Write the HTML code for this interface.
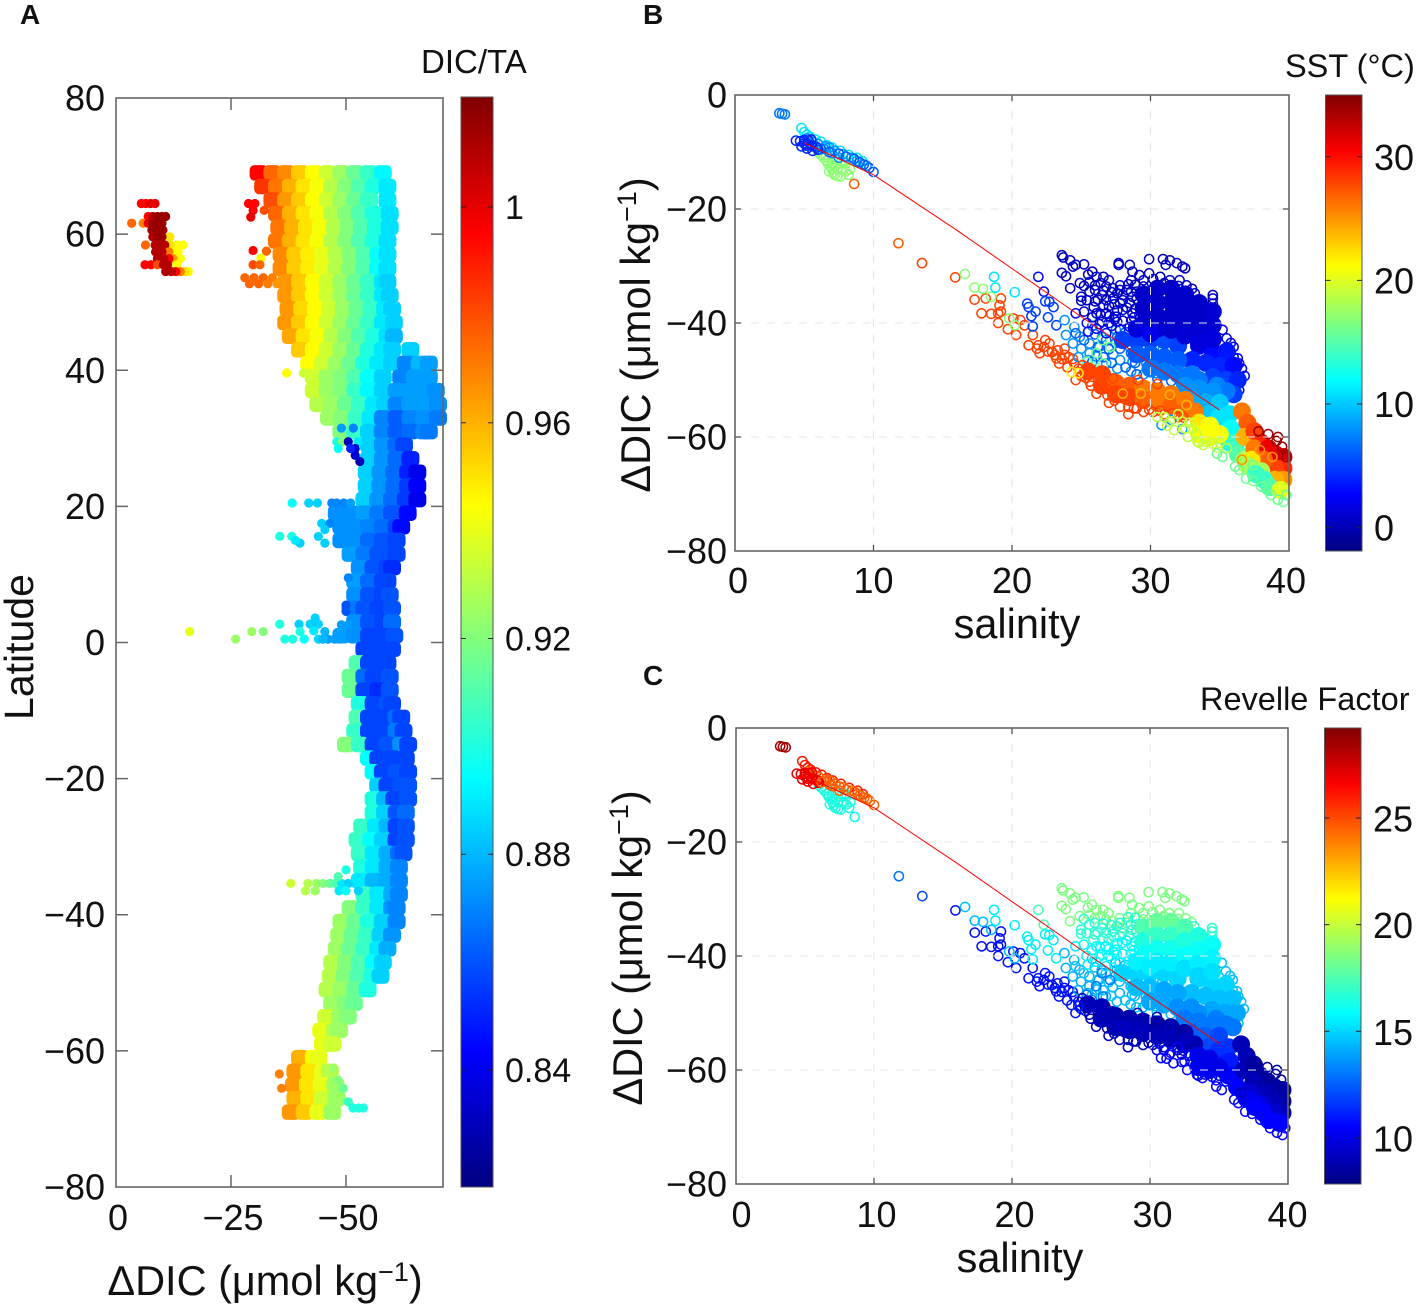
<!DOCTYPE html>
<html lang="en">
<head>
<meta charset="utf-8">
<title>DIC charts</title>
<style>
html,body{margin:0;padding:0;background:#fff}
svg{display:block}
text{font-family:"Liberation Sans",sans-serif;fill:#111}
</style>
</head>
<body>
<svg id="fig" xmlns="http://www.w3.org/2000/svg" width="1417" height="1306" viewBox="0 0 1417 1306">
<defs id="defs"></defs>
<rect x="0" y="0" width="1417" height="1306" fill="#fff"/>
<g id="plotA"></g>
<g id="plotB"></g>
<g id="plotC"></g>
<g id="axes"></g>
<text x="20" y="24" font-size="28" font-weight="bold">A</text>
<text x="643" y="24" font-size="28" font-weight="bold">B</text>
<text x="643" y="685" font-size="28" font-weight="bold">C</text>
<text x="421" y="73" font-size="33" fill="#222">DIC/TA</text>
<text x="1285" y="77" font-size="32.5" fill="#222">SST (°C)</text>
<text x="1200" y="710" font-size="32.5" fill="#222">Revelle Factor</text>
<text x="265" y="1295" font-size="41.5" text-anchor="middle">ΔDIC (μmol kg<tspan font-size="27" dy="-14">−1</tspan><tspan dy="14">)</tspan></text>
<text transform="translate(33,647) rotate(-90)" font-size="41" text-anchor="middle">Latitude</text>
<text x="1017" y="638" font-size="41.5" text-anchor="middle">salinity</text>
<text transform="translate(650,335) rotate(-90)" font-size="41.5" text-anchor="middle">ΔDIC (μmol kg<tspan font-size="27" dy="-14">−1</tspan><tspan dy="14">)</tspan></text>
<text x="1020" y="1272" font-size="41.5" text-anchor="middle">salinity</text>
<text transform="translate(642,948) rotate(-90)" font-size="41.5" text-anchor="middle">ΔDIC (μmol kg<tspan font-size="27" dy="-14">−1</tspan><tspan dy="14">)</tspan></text>
</svg>
<script>
/* ---------- Panel A data: [latitude, dDIC, ratio, dDIC, ratio, ...] (dDIC magnitude) ---------- */
const latBandRows = [
[69,31,.995,34,.975,37,.968,40,.955,43,.945,46,.935,49,.925,52,.915,55,.905,58,.893],
[67,32,.985,35,.972,38,.96,41,.95,44,.943,47,.93,50,.92,53,.91,56,.9,59,.89],
[65,34,.98,37,.965,40,.955,43,.945,46,.935,49,.925,52,.915,55,.905,59,.89],
[63,35,.975,38,.96,41,.95,44,.943,47,.93,50,.92,53,.91,56,.9,59.5,.888],
[61,35.5,.972,38.5,.96,41.5,.95,44.5,.943,47.5,.93,50.5,.92,53.5,.91,56.5,.9,59.5,.888],
[59,35,.972,38,.96,41,.95,44,.943,47,.93,50,.92,53,.91,56,.9,59,.888],
[57,36,.968,39,.955,42,.948,45,.94,48,.93,51,.92,54,.91,57,.895,59,.888],
[55,36,.968,39,.955,42,.948,45,.94,48,.93,51,.92,54,.91,57,.895,59,.888],
[53,37,.965,40,.955,43,.945,46,.935,49,.925,52,.915,55,.905,58,.89,59,.885],
[51,37,.965,40,.955,43,.945,46,.935,49,.925,52,.915,55,.905,58,.89,59.5,.885],
[49,37.5,.965,40.5,.952,43.5,.945,46.5,.935,49.5,.925,52.5,.915,55.5,.905,58.5,.89,60,.885],
[47,37,.965,40,.955,43,.945,46,.935,49,.925,52,.915,55,.905,58,.89,60.4,.885],
[45,38,.962,41,.95,44,.943,47,.93,50,.92,53,.91,56,.9,59,.888,60.4,.88],
[43,40,.955,43,.945,46,.935,49,.925,52,.915,55,.9,58,.89,60,.885,64,.885],
[41,42,.945,45,.935,48,.925,51,.915,54,.9,57,.89,60,.885,63,.87,66,.88,68,.875],
[39,43,.935,46,.925,49,.92,52,.91,55,.895,58,.885,62,.87,65,.875,68,.875],
[37,43,.935,46,.925,49,.92,52,.905,55,.893,58,.885,61,.875,64,.875,67,.875,69.5,.872],
[35,44,.93,47,.925,50,.915,53,.905,56,.89,58.5,.885,61,.87,64,.875,67,.875,70,.872],
[33,46.3,.925,49.3,.92,52.3,.905,55.3,.89,58,.87,61,.862,64,.87,67,.872,70,.868],
[31,49,.92,52,.905,55,.885,58,.87,61,.862,64,.865,67,.87,68,.868],
[29,55,.885,58,.873,61,.865,62.6,.857],
[27,55,.885,58,.873,61,.865,64,.85],
[25,54.5,.885,57.5,.873,60.5,.865,63.5,.85,65.5,.84],
[23,54.5,.885,57.5,.873,60.5,.865,63.5,.855,65.5,.843],
[21,54,.885,57,.873,60,.865,63,.855,65.5,.84],
[19,48,.872,51,.872,54,.875,57,.868,60,.86,63.4,.845],
[17,49,.872,52,.872,55,.87,58,.865,61,.857,62,.845],
[15,49,.872,52,.872,55,.865,58,.86,61,.857],
[13,51,.875,54,.868,57,.86,60,.86,61,.857],
[11,53,.872,56,.86,59,.857,60,.852],
[9,52,.875,55,.865,58,.857,59,.857],
[7,52,.872,55,.86,58,.857,59.5,.86],
[5,51,.868,54,.86,57,.857,60,.86],
[3,52,.872,55,.86,58,.857,60,.865],
[1,49,.875,52,.872,55,.857,58,.857,60.5,.86],
[-1,54,.857,57,.857,60,.857],
[-3,52.5,.91,55,.857,58,.857,59,.857],
[-5,51,.915,54,.865,56,.857,59.5,.86],
[-7,51,.915,54,.857,57,.852,59.5,.86],
[-9,53,.9,56,.857,59,.86,60,.857],
[-11,52.5,.91,55,.857,58,.857,61,.865,62,.857],
[-13,52,.905,55,.857,58,.857,61,.868,62.5,.857],
[-15,50,.92,53,.905,56,.857,59,.86,62,.872,63.5,.857],
[-17,55,.895,57,.857,60,.857,63,.857],
[-19,56,.895,58,.857,61,.86,63.5,.857],
[-21,57,.885,59,.857,62,.86,63.5,.86],
[-23,56,.9,58.5,.88,60.5,.857,63.5,.86],
[-25,56,.9,58.5,.885,61,.86,63,.865],
[-27,53.5,.905,56.5,.89,59,.88,61,.857,63,.86],
[-29,52.5,.905,55.5,.895,58,.885,61,.857,63,.86],
[-31,53,.905,56,.89,59,.878,61.5,.865,62.5,.86],
[-33,53.5,.9,56,.89,59,.878,61.5,.87],
[-35,53,.89,56,.88,59,.878,61.5,.87],
[-37,54,.905,57,.89,60,.878,61.5,.87],
[-39,51,.92,54,.905,57,.89,60,.873,61,.87],
[-41,49,.925,52,.915,55,.9,58,.885,61,.87],
[-43,48.5,.925,51.5,.915,54.5,.905,57.5,.885,60,.873],
[-45,48,.925,51,.915,54,.905,57,.89,59,.878],
[-47,47,.93,50,.92,53,.91,56,.895,58,.885],
[-49,46.7,.93,49.7,.92,52.7,.91,55.7,.9,57.5,.885],
[-51,46,.93,49,.925,52,.915,54.7,.9],
[-53,47,.925,50,.92,51.7,.915],
[-55,45.7,.935,48.7,.925,50.4,.92],
[-57,44.6,.94,47.5,.93,48.5,.925],
[-59,45,.94,47,.935],
[-61,40,.96,43,.945,44,.94],
[-63,39,.965,42,.95,45,.94,46.5,.93],
[-65,38.7,.965,41.7,.95,44.7,.94,47.7,.925],
[-67,39,.96,42,.95,45,.935,48,.925],
[-69,38,.965,41,.955,44,.94,47,.925]
];
/* small individually visible points: latitude, dDIC, ratio */
const latSpecks = [
64.5,5.5,.995,64.5,6.5,.995,64.5,7.5,1,64.5,8.5,1,
62.6,7,.995,62.6,8,1.01,62.6,9,1.015,62.6,10,1.015,62.6,10.8,1.015,
61.6,3.4,.975,61.6,5.9,.97,61.6,7,1,61.6,8,1.015,61.6,9,1.015,61.6,10,1.015,
60.6,7.8,1.015,60.6,9,1.015,60.6,10.2,1.015,59.6,11.7,.95,59.6,8,1.01,59.6,9,1.015,59.6,10,1.015,
58.4,13.2,.945,58.4,14.5,.945,58.4,11.8,.95,58.4,6.4,.975,58.4,8.5,1.01,58.4,9.6,1.01,58.4,10.6,1.01,
57.4,12.5,.945,57.4,13.5,.945,57.4,11.5,.97,57.4,8.6,1.01,57.4,10,1.01,
56.4,14,.945,56.4,12.4,.965,56.4,11.5,.995,56.4,9,1.01,56.4,10.3,1.01,
55.5,13.2,.945,55.5,6.3,.995,55.5,7.6,.995,55.5,9,.98,55.5,10.3,1.01,55.5,11.2,1.01,
54.5,15.7,.945,54.5,15,.95,54.5,14,.97,54.5,13,.995,54.5,10.8,1.01,54.5,12,1.01,
64.5,28.8,.995,64.5,30.2,.995,63.5,29.8,.995,62.5,29.3,1,63.5,32.2,.98,
57.6,29.8,.995,56.5,31.5,.945,57.5,32.7,.975,55.5,29.8,.98,55.5,31.3,.975,
53.6,28,.975,53.6,30,.975,53.6,32,.975,53.6,34,.97,52.7,29,.975,52.7,31,.975,52.7,33,.97,52.7,35,.965,
39.6,37.1,.945,39.6,40.7,.935,39.6,41.8,.935,
31.5,49,.875,31.5,51.6,.87,29.5,48,.9,29.5,49.2,.92,29.5,52.6,.89,28.5,48.3,.895,
29.5,50.5,.83,28.5,52,.835,27.5,52,.835,26.6,53,.83,28.5,51,.85,
20.5,38.3,.895,20.5,41.9,.885,20.5,43.8,.885,20.5,46.9,.87,20.5,48,.87,20.5,49.5,.87,20.5,51,.875,
17.5,44.7,.885,17.5,46.5,.87,16.6,45.4,.885,15.6,44,.885,14.6,45.4,.885,
15.6,35.6,.9,15.6,38.2,.9,14.6,40,.885,15,39,.89,
3.6,43.3,.885,2.7,42.2,.885,2.7,44,.885,2.7,39.8,.885,2.7,35.6,.9,1.6,40,.9,1.7,43,.89,1.6,45.4,.88,
.5,44,.885,.5,36.7,.9,.5,38.4,.9,.5,40.9,.895,.5,46.1,.875,.5,48.7,.875,.5,45,.88,.5,47.5,.875,
2.6,49,.875,2.6,50.5,.875,1.6,16,.94,.5,26,.925,1.6,29.5,.925,1.6,32,.92,
5.5,50,.86,4.6,50,.86,9.5,50.5,.87,
-35.4,38,.935,-35.4,41.7,.93,-35.4,43.6,.925,-35.4,45,.92,-35.4,46.5,.915,-35.4,47.6,.91,-35.4,49,.89,-35.4,50.5,.885,
-36.5,41.2,.93,-36.5,43.3,.925,-36.5,48.5,.89,-36.5,50,.895,-36.5,52.7,.885,-33.4,50,.9,-34.4,48.3,.91,
-63.4,35.5,.97,-65.5,36,.97,
-67.5,50.5,.905,-68.4,51.5,.9,-68.4,52.7,.9,-68.4,53.8,.9,-65.5,49.4,.915,-64.3,48.3,.92,-62.6,47.2,.925
];

/* ---------- Panels B + C data: salinity, dDIC magnitude, SST, Revelle factor ---------- */
/* open circles behind the dense core: [sst, revelle, [salinity, dDIC, ...]] */
const scatterBack = [
[7,28.5,[3.2,3.2,3.4,3.3,3.6,3.4]],
[11,26,[4.8,5.8,5,6.5,5.2,7,5.4,7.3,5.8,7.8,6.2,8.2,6.6,8.8,7,9.2,7.6,9.8,8.2,10.5,8.8,11,9.2,11.6]],
[17,16.5,[6,10,6.4,11,6.7,12,7,13,7.2,14,7.6,14.3,7,12,6.5,10.5,7.4,11.5,8,12,8.3,13,8.2,14,7.9,11.5,6.8,13.4,7.4,13,6.2,10.5,6.6,11.5,7.2,12.5,7.6,12,7.8,13.2,6.9,12.5,7.4,14.2,7.1,13.6,8,13.4]],
[8,24.5,[5.2,7.6,5.6,8.2,6,8.6,6.4,9.4,6.8,9.2,7.2,9.8,7.8,10.4,8.4,11,5.8,9,6.5,9,7,10.2,7.5,11,8.8,11.6,9.5,12.4]],
[4,27,[4.4,8,4.7,8.1,5,8,5.2,8.6,5.5,8.8,5.2,9.4,5.6,9.8,6,9.6,5,7.9,4.8,9,5.5,7.8,5,8.5,5.3,8,5.6,9,5.9,9.2,5.2,8.9]],
[6,24.5,[6.2,9.5,6.8,10,7.5,10.3,8,10.8,8.6,11.2,9,11.8,9.3,12.2,9.7,12.8,10,13.5]],
[27,16,[8.6,15.6]],
[27,13,[11.8,26]],
[28,12,[13.5,29.5]],
[28,10.8,[15.9,32,17.3,35.9,18.1,35.7,19.2,35.7,19.1,36.9,17.8,38.3,18.5,38.4,19,38.3,19.2,38,19,40,19.7,41.1,20.1,39.2,20.6,39.5,20.9,40.4,20.3,42.1,21.5,42.1,21.2,43.9,22.4,43,22.7,43.6,21.9,43.9,22,45.3,22.6,45,23.1,45.6,23.8,44.5,23.8,45.6,23.4,47.1,23.2,46.2,24.5,47.1,24.6,50,21.8,44.5,22.3,44.2,22.9,45.1,23.3,44.8,23.6,46.3,24.1,46,24,47.8,24.8,48,24.4,46.3,25,49.3,25.3,49.6]],
[17,14.5,[16.6,31.4,17.3,33.8,17.9,34,18.5,35.4,19.8,39.2,20.2,40.4]],
[11,15.5,[18.7,31.9,18.8,33.8,20.2,34.6]],
[3,17.5,[21.9,31.9,22.3,34.5]],
[5,15.5,[22.4,36.2,22.7,36.3,23,37.2,21.1,36.6,21.2,37.2,21.7,38,21.4,38.8,21.5,40.6,23.2,40.4,22.6,39]],
[8,14.2,[23.8,39.5,24.5,40.7,23.9,42.1,24.9,42.4,25.6,43.6,26.3,44.2,27.3,45.5,27.5,41.2,28.4,42.7,29.2,43.6,29.9,44.8,30.5,41.2,28.5,44.2,26.1,45.9,26.8,47.1,27.8,46.5,28.7,46.8,29.7,47.1,30.4,48.8,25.6,45.3,30.9,44.5,31.9,48.3,32.6,49.4,24.4,43.6,27.5,43.5,26.5,42.5,25,44.5,24.8,46,27.6,48,28.6,48.5,29.5,49,25.5,46.5]],
[6,14.6,[26,42,26.8,43,27.6,42.4,28.2,41.6,29,41.8,29.8,41.8,26.2,44.2,27,44.6,27.8,44.5,28.6,45.3,29.3,45.2,24.6,41.8,25.2,43,25.8,40.5,28.9,47,29.3,46,30,46.5,30.8,47,31.4,47.6,32.2,48,27.2,47,28.2,47.8,29,49,26.6,46,25.8,46.8,30.5,49.8,31.5,50.2,32.2,50.4]],
[16,13,[26.5,43,26.1,45.3,26.6,47.1,25.4,46.8,25.8,47.7,27.1,44.2]],
[3,15.5,[24.6,38.3,25.4,40,26.1,41,27,40,27.8,41.2,28.5,40.7,29.5,40.7,30.4,41.2,25.5,41.5,26.8,41.8,27.6,39.8]],
[.5,18.5,[23.6,28.1,23.7,28.5,24.2,29,24.4,30.1,24.6,29.8,25.2,29.7,23.6,31.2,23.9,31.8,24.2,33.9,24.9,33,27.7,29.5,27.7,29.8,28.5,29.8,29.9,28.8,30.9,28.8,31.4,29,31.1,29.8,31.9,29.5,32.3,30.1,32.5,30.4,28.7,31,25.8,31,26.1,31.9,25.6,32.8,26.6,31.9,26,33.4,26.8,33.6,27.8,33.4,27.3,33.9,28.6,32.5,29.2,31.6,29.9,31.3,30.7,31.9,31.4,32.5,32.1,32.5,32.6,33.4,29.5,33.6,30.4,33.4,28.3,34.2,28,35.1,25.5,31.5,26.4,33,27,32.5,29.5,32.5,30.2,32.3,31,33,32,33.5,33,34]],
[.6,16.8,[25,35.4,25,36.1,26.5,35.1,27.3,35.7,25.9,37.2,26.6,36.9,28.7,35.4,33.2,34.8,34.5,35.1,34.5,35.7,34.5,36.6,27,37,27.8,36.5,28.5,36.5,28.9,37.5,29,34.5,26.2,35.9,27.6,34.8,25.2,33.5,25.6,34.5,26,34.2,26.6,34.3,27.2,34.6,27.8,34.2,28.4,33.2,28.9,33.3,25.4,36,26,36.2,26.8,36,27.4,36.7,28,36,28.6,34.5,29,35.8]],
[1,15.8,[26.8,38.3,27.5,38.9,26.1,38.3,28,37.7,28.7,38.3,28.6,39.6,29.5,39.5,27.4,39.4,26.5,39.8,25.2,38,25.8,39,26.4,38.6,27,38.8,27.6,37.8,28.3,37.3,28.8,39,29.2,38.6,26.3,40.2,27.2,40.5,28,39.6]],
[2,14.5,[35.2,41.2,35.5,42.7,36,44.2,36.3,46.2,36.4,47.1,36.8,49.3,36.4,51.8,36.2,52.9,35.8,43.5,36,46,36,48,36.6,48]]
];
/* solid packed regions: salinity, dDIC, sst, revelle */
const corePoints = [
[33.5,44,3,15],[34.5,45,3,15],[35.5,45,3.5,15],[33,46.5,4,14.5],[34,47,4,14.5],[35,47.5,4,14.5],[36,47.5,3,14.5],[34.5,49.5,5,14],[35.5,50,5,14],[36.3,50,4,14],[36,52.5,5,13],
[28,43,5,15],[29,43,5,15],[30,43,5,15],[31,43,5.5,15],[32,44,5,15],[29,45.5,6,14.5],[30,45.5,6,14.5],[31,46,6,14],[32,46.5,6,14],[30,48,7,14],[31,48.5,7,14],[32,49,7,13.5],[33,49,7,13.5],[33.5,50,7,13.5],[34.8,51,7.5,13.2],[35.5,52,7,13],
[29.5,35,.8,17.5],[29.5,37.4,.8,16.5],[30.5,34,.8,18],[30.5,36.4,.8,17],[30.5,38.8,.8,16.2],[30.5,41,1,15.5],[31.5,34,.8,18],[31.5,36.4,.8,17],[31.5,38.8,.8,16.2],[31.5,41.2,1,15.5],[32.5,35,.8,17.5],[32.5,37.4,.8,16.5],[32.5,39.8,.8,16],[32.5,42.2,1.2,15.2],[33.5,36.5,.8,16.5],[33.5,39,.8,16],[33.5,41.4,1,15.5],[33.5,43.5,1.5,15],[34.5,38,1,16],[34.5,40.4,1,15.6],[34.5,42.8,1.5,15.2],[29.6,39.8,.8,16],[29,41,1.5,15.6],[30,41.8,2,15.5],
[32.5,51,8,13],[33.5,51.5,8,13],[34.5,52,8,13],[33,53.5,9,12.5],[34,54,9,12.5],[35,54,10,12],[34.2,56,10,12],[35,56.5,11,11.5],[35.7,56,11,11.5],[35.3,59,11,11],[35.8,58.5,12,11],[35.7,61,13,10.5],[36.2,61,14,10.5],[36.3,63,15,10.5],[36.8,64,18,10],
[25.5,48.5,28,9],[26.5,49,28,9],[26.5,51,28,9],[27.5,50.5,27,8.8],[27.5,52.5,28,9],[28.5,51,27,8.8],[28.5,53,28,9],[29.5,51.5,26,8.8],[29.5,53.5,27,9],[30.5,52,26,8.6],[30.5,54,26,9],[31.5,52.5,26,8.6],[31.5,54.5,27,9],[32.5,53.5,26,8.6],[32.5,55.5,27,9],[33.2,55.5,26,8.8],
[33.5,57.5,22,10],[34.3,58,21,10],[35,59.5,21,10],[34.3,60,21,10],[33.5,59.5,21,10],
[36.6,55.5,26,9],[37,57.5,27,9],[36.8,60,24,9],[37.5,59,28,8.5],[38,61,29,8.5],[37.5,62,26,9],[38.5,62,31,8.5],[39,63,31,8.5],[39.6,63.5,32,8.5],[39.6,65.5,29,8.5],[39,65.5,28,9],[38.2,64,27,9],[37.3,64,22,9.5],[39.6,67.5,25,9],[39,67.5,24,9.5],[38,66,18,10],[37,65,18,10],[38.2,67.5,14,10.5],[37.6,66.5,14,10.5],[38.6,68.8,15,10.5],[39.4,69.3,20,10.5]
];
/* open circles on top of the core */
const scatterFront = [
[28,9,[25.1,47.4,25.6,48.3,25.6,50.3,26.1,52.4,26.8,51.5,27.8,54.7,28.4,56,28,53,29.5,55.6,30.2,55.6,29.1,50,30.5,50.7,27.3,49.7,26.5,50.6,27,54,28.8,55,31,56,32,56.5,25.7,51,26.3,51.5,26.9,52.7,27.4,53.6,28.4,54.7,29,55,29.9,55.2,30.7,55.4,31.6,55.8,32.4,56.6]],
[22,11,[24.3,48.6,24.8,48.8]],
[24,9.5,[31.4,52.6,28,52.4,29.3,52.4,32.6,54.4]],
[8,10.5,[30.8,57.9,31.5,57,32.3,58.6]],
[19,10.5,[30.5,56.5,31.4,57.3,31.7,58.8,32.3,57.3,32.7,60,33.4,60.8,33.8,61.4,33.3,59.4,32.5,58.5,31,56.5,32,56,32.8,57.5,33,58.5,31.2,58,34,60.8,34.5,61.2,34.8,61.8,35,61,33.5,61,35.5,62]],
[16,10.5,[34.8,62.9,35.2,63.5,36.1,65.2,36.4,65.8,36.9,67.3,37.4,64.9,37.4,67.7,38,68.7,38.7,70.2,39.2,71,39.6,71.4,39.8,70.2]],
[34,8.5,[39.2,60,39.1,60.7,39.5,61.7,37.8,59,39.8,63.5,38.5,59.5]],
[25,9,[37.9,62.3,38.8,63.5,36.6,64]]
];
/* mean mixing line */
const lineSalinity = [5,10,16,25,35];
const lineDIC = [8.4,14,23.7,38.9,55.3];

/* ---------- Tick labels ---------- */
const latTicks = [80,60,40,20,0,-20,-40,-60,-80];
const dicTicksA = [0,-25,-50];
const salTicks = [0,10,20,30,40];
const dicTicksBC = [0,-20,-40,-60,-80];
const ratioTicks = [1,0.96,0.92,0.88,0.84];
const sstTicks = [30,20,10,0];
const rfTicks = [25,20,15,10];

/* ---------- Axes ---------- */
const NS = 'http://www.w3.org/2000/svg';
const xA = d => 116 + 4.6 * d;
const yA = lat => 642.5 - 6.806 * lat;
const panelB = {x0:735, x1:1289, y0:95, y1:551, g:'plotB', key:2, lo:-1.9, hi:35};
const panelC = {x0:736, x1:1288, y0:728, y1:1184, g:'plotC', key:3, lo:7.84, hi:29.22};
const sx = (p, s) => p.x0 + (p.x1 - p.x0) * s / 40;
const sy = (p, d) => p.y0 + (p.y1 - p.y0) * d / 80;

function jet(t) {
  t = Math.max(0, Math.min(1, t));
  const f = c => Math.round(255 * Math.max(0, Math.min(1, 1.5 - Math.abs(4 * t - c))));
  return 'rgb(' + f(3) + ',' + f(2) + ',' + f(1) + ')';
}
const ratioColor = r => jet((r - 0.8183) / (1.0204 - 0.8183));

function mk(tag, attrs, parent) {
  const el = document.createElementNS(NS, tag);
  for (const k in attrs) el.setAttribute(k, attrs[k]);
  parent.appendChild(el);
  return el;
}

/* Panel A */
const gA = document.getElementById('plotA');
latBandRows.forEach(row => {
  for (let i = 1; i < row.length; i += 2) {
    const c = mk('rect', {x: xA(row[i]) - 9, y: yA(row[0]) - 7.8, width: 18, height: 15.6, rx: 5, ry: 5, fill: ratioColor(row[i + 1])}, gA);
    
    
  }
});
for (let i = 0; i < latSpecks.length; i += 3) {
  const c = mk('circle', {cx: xA(latSpecks[i + 1]), cy: yA(latSpecks[i]), r: 4.6, fill: ratioColor(latSpecks[i + 2])}, gA);
  
  
}

/* Panels B and C */
function drawPanel(p) {
  const g = document.getElementById(p.g);
  const col = v => jet((v - p.lo) / (p.hi - p.lo));
  const openBatch = b => {
    const v = p.key === 2 ? b[0] : b[1];
    const pts = b[2];
    for (let i = 0; i < pts.length; i += 2) {
      const c = mk('circle', {cx: sx(p, pts[i]), cy: sy(p, pts[i + 1]), r: 4.6, fill: 'none', stroke: col(v), 'stroke-width': 1.5}, g);
      
      
    }
  };
  scatterBack.forEach(openBatch);
  corePoints.forEach(q => {
    const v = q[p.key];
    const c = mk('circle', {cx: sx(p, q[0]), cy: sy(p, q[1]), r: 9, fill: col(v)}, g);
    
    
  });
  scatterFront.forEach(openBatch);
  const d = lineSalinity.map((s, i) => (i ? 'L' : 'M') + sx(p, s) + ' ' + sy(p, lineDIC[i])).join(' ');
  const l = mk('path', {d: d, fill: 'none', stroke: '#f00', 'stroke-width': 1}, g);
  
  
}
drawPanel(panelB);
drawPanel(panelC);

/* Axis furniture */
const axes = document.getElementById('axes');
const FR = '#666';
function line(x1, y1, x2, y2, stroke, w, dash, name) {
  const el = mk('line', {x1, y1, x2, y2, stroke, 'stroke-width': w}, axes);
  if (dash) el.setAttribute('stroke-dasharray', dash);
  
  
}
function label(x, y, s, size, anchor, name) {
  const el = mk('text', {x, y, 'font-size': size, 'text-anchor': anchor}, axes);
  el.textContent = String(s).replace('-', '−');
  
  
}
function frame(x0, y0, x1, y1, w, name) {
  const el = mk('rect', {x: x0, y: y0, width: x1 - x0, height: y1 - y0, fill: 'none', stroke: FR, 'stroke-width': w}, axes);
  
  
}

/* Panel A axes */
frame(116, 98, 443, 1187, 1.6, 'panel-a-frame');
latTicks.forEach(v => {
  const y = yA(v);
  if (v !== 80 && v !== -80) {
    line(116, y, 128, y, FR, 1.5, null, 'panel-a-y-tick');
    line(431, y, 443, y, FR, 1.5, null, 'panel-a-y-tick');
  }
  label(105, y + 12.5, v, 36, 'end', 'panel-a-y-tick-label');
});
dicTicksA.forEach(v => {
  const x = xA(-v);
  if (v !== 0) {
    line(x, 98, x, 110, FR, 1.5, null, 'panel-a-x-tick');
    line(x, 1175, x, 1187, FR, 1.5, null, 'panel-a-x-tick');
  }
  label(x + 2, 1230, v, 36, 'middle', 'panel-a-x-tick-label');
});

/* Panels B + C axes */
function panelAxes(p, tag, labelY, dx) {
  salTicks.forEach(v => {
    const x = sx(p, v);
    if (v !== 0 && v !== 40) {
      line(x, p.y0, x, p.y1, '#e4e4e4', 1, '8 8', tag + '-x-grid');
      line(x, p.y0, x, p.y0 + 6, '#444', 1.2, null, tag + '-x-tick');
      line(x, p.y1 - 6, x, p.y1, '#444', 1.2, null, tag + '-x-tick');
    }
    const off = v === 0 ? 3 + dx : v === 40 ? -3 + dx : dx;
    label(x + off, labelY, v, 36, 'middle', tag + '-x-tick-label');
  });
  dicTicksBC.forEach(v => {
    const y = sy(p, -v);
    if (v !== 0 && v !== -80) {
      line(p.x0, y, p.x1, y, '#e4e4e4', 1, '8 8', tag + '-y-grid');
      line(p.x0, y, p.x0 + 6, y, '#444', 1.2, null, tag + '-y-tick');
      line(p.x1 - 6, y, p.x1, y, '#444', 1.2, null, tag + '-y-tick');
    }
    label(727, y + 12.5, v, 36, 'end', tag + '-y-tick-label');
  });
  frame(p.x0, p.y0, p.x1, p.y1, 1.6, tag + '-frame');
}
panelAxes(panelB, 'panel-b', 593, 0);
panelAxes(panelC, 'panel-c', 1227, 2.5);

/* Colorbars */
const defs = document.getElementById('defs');
const grad = mk('linearGradient', {id: 'jetGrad', x1: 0, y1: 1, x2: 0, y2: 0}, defs);
[0, 0.125, 0.375, 0.625, 0.875, 1].forEach(t => {
  mk('stop', {offset: t, 'stop-color': jet(t)}, grad);
});
function colorbar(x0, x1, y0, y1, lo, hi, ticks, labelX, size, base, tag) {
  const r = mk('rect', {x: x0, y: y0, width: x1 - x0, height: y1 - y0, fill: 'url(#jetGrad)', stroke: '#555', 'stroke-width': 1}, axes);
  
  
  ticks.forEach(v => {
    const y = y1 - (v - lo) / (hi - lo) * (y1 - y0);
    line(x0, y, x0 + 5, y, '#222', 1, null, tag + '-tick');
    line(x1 - 5, y, x1, y, '#222', 1, null, tag + '-tick');
    label(labelX, y + base, v, size, 'start', tag + '-tick-label');
  });
}
colorbar(461, 493, 97, 1187, 0.8183, 1.0204, ratioTicks, 505, 34, 12, 'colorbar-a');
colorbar(1325.5, 1362, 95, 551, -1.9, 35, sstTicks, 1374, 36, 13, 'colorbar-b');
colorbar(1324.5, 1361, 728, 1184, 7.84, 29.22, rfTicks, 1373, 36, 13.5, 'colorbar-c');
</script>
</body>
</html>
